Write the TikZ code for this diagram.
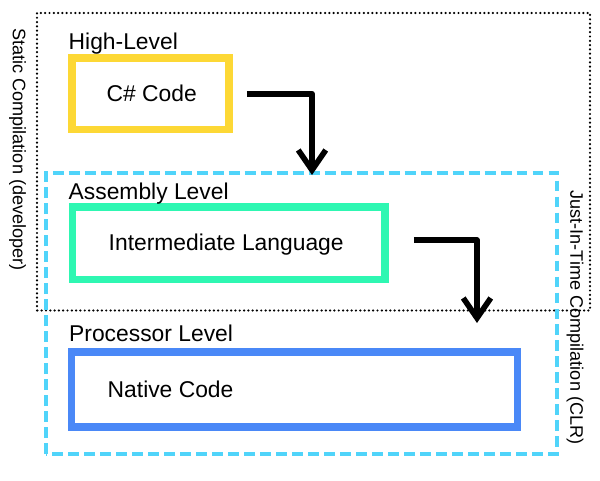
\documentclass[tikz,border=0pt]{standalone}
\usepackage{fontspec}
\setmainfont{Liberation Sans}
\usetikzlibrary{arrows.meta}

\definecolor{highyellow}{RGB}{253,216,53}
\definecolor{asmgreen}{RGB}{46,247,178}
\definecolor{cpublue}{RGB}{74,136,247}
\definecolor{jitcyan}{RGB}{80,212,250}

\begin{document}
\begin{tikzpicture}[
    auto,
    thick
  ]

  % Styles
  \tikzstyle{level}=[draw, shape=rectangle, line width=4.3pt, inner sep=0pt]
  \tikzstyle{heading}=[anchor=base west, inner sep=0pt, font=\fontsize{13}{15}\selectfont]
  \tikzstyle{code}=[anchor=base west, inner sep=0pt, font=\fontsize{13}{15}\selectfont]
  \tikzstyle{phase}=[rotate=-90, inner sep=0pt, font=\fontsize{10.3}{12}\selectfont]
  \tikzstyle{flow}=[-{Straight Barb[length=4mm, width=5.5mm]}, line width=3.2pt, line join=round]

  \useasboundingbox (0,0) rectangle (12,9.6);

  % Static compilation region (dotted)
  \draw[black, line width=1.4pt, line cap=round, dash pattern=on 0pt off 2.45pt]
    (0.74,3.39) rectangle (11.8,9.34);
  % JIT region (dashed)
  \draw[jitcyan, line width=1.8pt, dash pattern=on 6.2pt off 2.9pt]
    (0.92,0.52) rectangle (11.14,6.14);

  % Side labels
  \node[phase] (static) at (0.35,6.61) {Static Compilation (developer)};
  \node[phase] (jit) at (11.5,3.25) {Just-In-Time Compilation (CLR)};

  % Level boxes
  \node[level, draw=highyellow, minimum width=3.14cm, minimum height=1.43cm] (csharp) at (3.01,7.725) {};
  \node[level, draw=asmgreen, minimum width=6.25cm, minimum height=1.45cm] (il) at (4.575,4.735) {};
  \node[level, draw=cpublue, minimum width=8.92cm, minimum height=1.5cm] (native) at (5.89,1.81) {};

  % Headings
  \node[heading] (high) at (1.36,8.62) {High-Level};
  \node[heading] (asm) at (1.36,5.62) {Assembly Level};
  \node[heading] (cpu) at (1.37,2.78) {Processor Level};

  % Box texts
  \node[code] (csharpText) at (2.12,7.58) {C\# Code};
  \node[code] (ilText) at (2.16,4.6) {Intermediate Language};
  \node[code] (nativeText) at (2.14,1.66) {Native Code};

  % Compilation steps
  \coordinate (drop1) at (6.24,6.1);
  \coordinate (drop2) at (9.54,3.14);
  \draw[flow] ([xshift=2.8mm]csharp.east) -| (drop1);
  \draw[flow] ([xshift=5mm, yshift=0.6mm]il.east) -| (drop2);

\end{tikzpicture}
\end{document}
